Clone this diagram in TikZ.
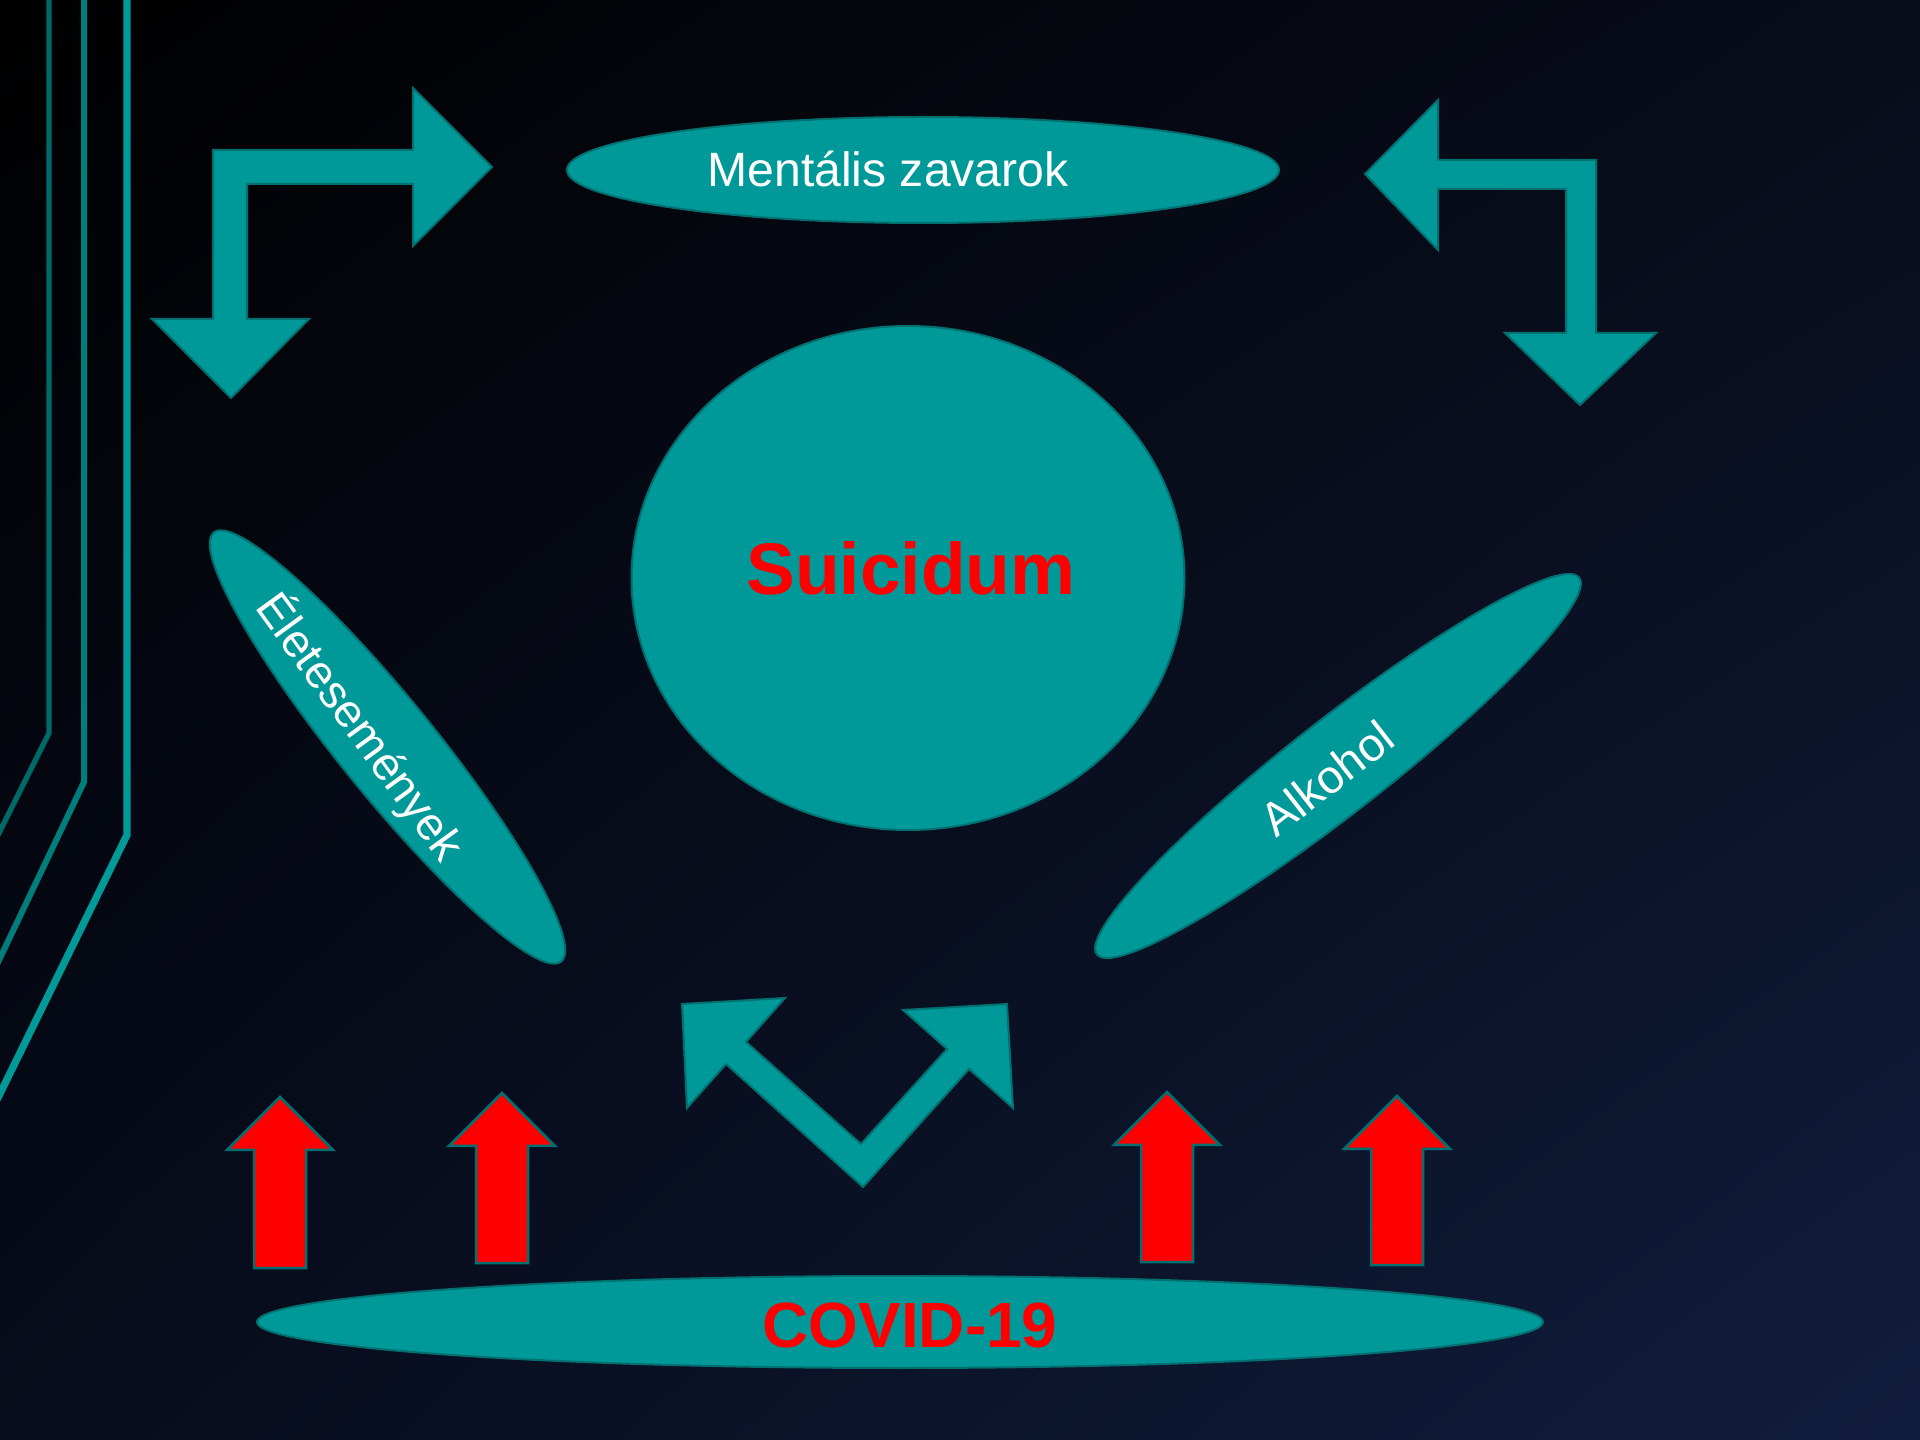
\documentclass[tikz,border=0pt]{standalone}
\usepackage{fontspec}
\setmainfont{Liberation Sans}
\usetikzlibrary{shapes.geometric,shadings}
\definecolor{tealfill}{HTML}{009999}
\definecolor{tealline}{HTML}{007070}
\definecolor{decoA}{HTML}{006A68}
\definecolor{decoB}{HTML}{007E7C}
\definecolor{decoC}{HTML}{009A98}
\definecolor{bgA}{HTML}{000000}
\definecolor{bgB}{HTML}{080C1A}
\definecolor{bgC}{HTML}{070C1C}
\definecolor{bgD}{HTML}{111D3D}
\tikzset{blob/.style={ellipse, draw=tealline, fill=tealfill, line width=0.2mm, inner sep=0pt},
blockarrow/.style={fill=tealfill, draw=tealline, line width=0.2mm},
redblock/.style={fill=red, draw=tealline, line width=0.25mm},
lbl/.style={text=white, inner sep=0pt, font=\fontsize{13.7pt}{16pt}\selectfont},
redlbl/.style={text=red, inner sep=0pt}}

\begin{document}
\begin{tikzpicture}[x=0.1mm, y=-0.1mm]
% Background
\clip (0,0) rectangle (1920,1440);
\shade[upper left=bgA, upper right=bgB, lower left=bgC, lower right=bgD] (0,0) rectangle (1920,1440);
% Side lines
\draw[line width=0.53mm, decoA] (49,-10) -- (49,733) -- (-10,851);
\draw[line width=0.6mm, decoB] (84,-10) -- (84,782) -- (-10,979);
\draw[line width=0.73mm, decoC] (127,-10) -- (127,835) -- (-10,1114);
% Ellipses
\node[blob, minimum width=71.2mm, minimum height=10.6mm] (mental) at (923,170) {};
\node[blob, minimum width=55.3mm, minimum height=50.4mm] (suicid) at (908,578) {};
\node[blob, minimum width=55.2mm, minimum height=9.6mm, rotate=-51] (elet) at (387.5,747) {};
\node[blob, minimum width=61.2mm, minimum height=9.4mm, rotate=38] (alkohol) at (1338,766) {};
\node[blob, minimum width=128.6mm, minimum height=9.2mm] (covid) at (900,1322) {};
% Texts
\node[lbl, anchor=base] (mental-txt) at (888,187) {Mentális zavarok};
\node[redlbl, anchor=base, font=\bfseries\fontsize{20.8pt}{24pt}\selectfont] (suicid-txt) at (911,595) {Suicidum};
\node[lbl, rotate=-54, font=\fontsize{13.2pt}{15pt}\selectfont] (elet-txt) at (360,727) {Életesemények};
\node[lbl, rotate=38, font=\fontsize{13.3pt}{16pt}\selectfont] (alkohol-txt) at (1327,778) {Alkohol};
\node[redlbl, anchor=base, font=\bfseries\fontsize{18.2pt}{21pt}\selectfont] (covid-txt) at (910,1347) {COVID-19};
% Bent arrows
\draw[blockarrow] (213,150) -- (413,150) -- (413,88) -- (492,167) -- (413,246) -- (413,184) -- (247,184) -- (247,319) -- (309,319) -- (231,398) -- (152,319) -- (213,319) -- cycle;
\draw[blockarrow] (1596,160) -- (1596,333) -- (1656,333) -- (1580,405) -- (1505,333) -- (1566,333) -- (1566,189) -- (1438,189) -- (1438,250) -- (1365,174) -- (1438,100) -- (1438,160) -- cycle;
% V arrow
\draw[blockarrow] (682,1004) -- (785,998) -- (746,1042) -- (861,1144) -- (947,1049) -- (903,1010) -- (1007,1004) -- (1013,1108) -- (969,1069) -- (863,1187) -- (726,1064) -- (687,1108) -- cycle;
% Red arrows
\def\redarrow#1#2#3{
  \draw[redblock] (#1,#2) -- (#1+53,#2+53) -- (#1+26,#2+53) -- (#1+26,#3) -- (#1-26,#3) -- (#1-26,#2+53) -- (#1-53,#2+53) -- cycle;
}
\redarrow{280}{1097}{1268}
\redarrow{502}{1093}{1263}
\redarrow{1167}{1092}{1262}
\redarrow{1397}{1096}{1265}
\end{tikzpicture}
\end{document}
